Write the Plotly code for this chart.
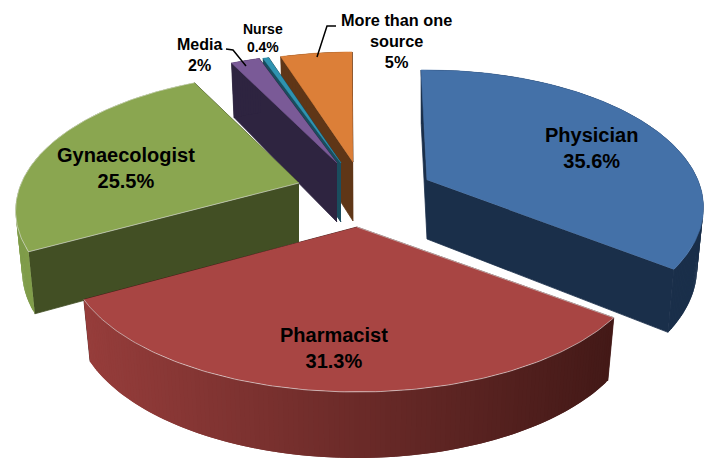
import numpy as np
import plotly.graph_objects as go

categories = ["Physician", "Pharmacist", "Gynaecologist", "Media", "Nurse", "More than one source"]
values = [35.6, 31.3, 25.5, 2, 0.4, 5]
value_labels = ["35.6%", "31.3%", "25.5%", "2%", "0.4%", "5%"]

W, H = 723, 476
PAGE_MARGIN = 8  # the page body keeps its default margin
RX, RY, P, DEPTH, SHRINK = 275, 132, 0.2, 59, 0.977
START = -1.5

STYLE = {
    "Physician": dict(apex=(427, 180), scale=0.985, turn=(0, 0), top="#4471A8", face="#1A2F4A", wall=("#1A2F4A", "#1A2F4A")),
    "Pharmacist": dict(apex=(357, 227), scale=1.03, turn=(0.5, 1), top="#A84543", face="#451A18", wall=("#963D3B", "#431917")),
    "Gynaecologist": dict(apex=(299, 183), scale=1.01, turn=(2.5, 2.5), top="#8AA650", face="#424F24", wall=("#7F9C4A", "#8AA650")),
    "Media": dict(apex=(337, 163), scale=1, turn=(2, 2), top="#7A5A97", face="#2E2440", wall=("#2E2440", "#2E2440")),
    "Nurse": dict(apex=(341, 163), scale=1, turn=(2, 2), top="#2F93B0", face="#1A4D5E", wall=("#1A4D5E", "#1A4D5E")),
    "More than one source": dict(apex=(353, 162), scale=1, turn=(2, 2), top="#DC7F38", face="#5F3617", wall=("#5F3617", "#5F3617")),
}
DRAW_ORDER = ["More than one source", "Nurse", "Media", "Physician", "Gynaecologist", "Pharmacist"]


def project(apex, theta, r=1.0, bottom=False, scale=1.0):
    t = np.radians(theta)
    u, v = r * np.sin(t), r * np.cos(t)
    s = 1 / (1 + P * v)
    k = SHRINK if bottom else 1.0
    x = apex[0] + RX * scale * u * s * k
    y = apex[1] - RY * v * s + (DEPTH * np.sqrt(s) if bottom else 0)
    return np.asarray(x, dtype=float), np.asarray(y, dtype=float)


def mix(c1, c2, f):
    a = [int(c1[i:i + 2], 16) for i in (1, 3, 5)]
    b = [int(c2[i:i + 2], 16) for i in (1, 3, 5)]
    return "rgb(%d,%d,%d)" % tuple(round(p + (q - p) * f) for p, q in zip(a, b))


def poly(fig, xs, ys, color, line=None, lw=0.8):
    fig.add_trace(go.Scatter(
        x=list(xs), y=list(ys), mode="lines", fill="toself", fillcolor=color,
        line=dict(color=line or color, width=lw), hoverinfo="skip", showlegend=False,
    ))


spans = {}
angle = START
for name, val in zip(categories, values):
    spans[name] = (angle, angle + val * 3.6)
    angle += val * 3.6

fig = go.Figure()
for name in DRAW_ORDER:
    a0, a1 = spans[name]
    st = STYLE[name]
    apex = st["apex"]
    a0, a1 = a0 + st["turn"][0], a1 + st["turn"][1]
    thetas = np.linspace(a0, a1, max(12, int((a1 - a0) * 1.2)))
    tx, ty = project(apex, thetas, scale=st["scale"])
    bx, by = project(apex, thetas, bottom=True, scale=st["scale"])
    ax_b, ay_b = project(apex, 0, r=0, bottom=True)

    # radial faces
    for i in (-1, 0):
        poly(fig, [apex[0], tx[i], bx[i], float(ax_b)], [apex[1], ty[i], by[i], float(ay_b)], st["face"])
    # rim, shaded across its width; every segment overlaps the next so no seams show
    lo, hi = tx.min(), tx.max()
    n = len(thetas)
    for i in range(n - 1):
        j = min(i + 2, n - 1)
        f = (0.5 * (tx[i] + tx[i + 1]) - lo) / max(hi - lo, 1)
        c = mix(st["wall"][0], st["wall"][1], f)
        xs = [*tx[i:j + 1], *bx[i:j + 1][::-1]]
        ys = [*ty[i:j + 1], *by[i:j + 1][::-1]]
        poly(fig, xs, ys, c, lw=0)
    # top
    poly(fig, [apex[0], *tx], [apex[1], *ty], st["top"],
         line="#E6E6E6" if name in ("Pharmacist", "Gynaecologist") else st["top"], lw=0.6)

# leader lines
for lx, ly in ([226, 233, 246], [49, 50, 66]), ([336, 327, 317], [26, 26, 57]):
    fig.add_trace(go.Scatter(x=lx, y=ly, mode="lines", line=dict(color="black", width=1.5),
                             hoverinfo="skip", showlegend=False))

LABELS = [
    (f"{categories[0]}<br>{value_labels[0]}", 591, 148, 20),
    (f"{categories[1]}<br>{value_labels[1]}", 334, 348, 20),
    (f"{categories[2]}<br>{value_labels[2]}", 126, 168, 20),
    (f"{categories[3]}<br>{value_labels[3]}", 199, 55, 16),
    (f"{categories[4]}<br>{value_labels[4]}", 263, 38, 14),
    (f"More than one<br>source<br>{value_labels[5]}", 396, 41, 16.3),
]
for text, x, y, size in LABELS:
    fig.add_annotation(x=x, y=y, text=text, showarrow=False, xanchor="center", yanchor="middle",
                       font=dict(family="Liberation Sans", size=size, color="black", weight="bold"),
                       align="center")

fig.update_layout(
    width=W - PAGE_MARGIN, height=H - PAGE_MARGIN, margin=dict(l=0, r=0, t=0, b=0), showlegend=False,
    paper_bgcolor="white", plot_bgcolor="white",
    xaxis=dict(range=[PAGE_MARGIN, W], visible=False, fixedrange=True),
    yaxis=dict(range=[H, PAGE_MARGIN], visible=False, fixedrange=True),
)
fig.write_html("out.html")
